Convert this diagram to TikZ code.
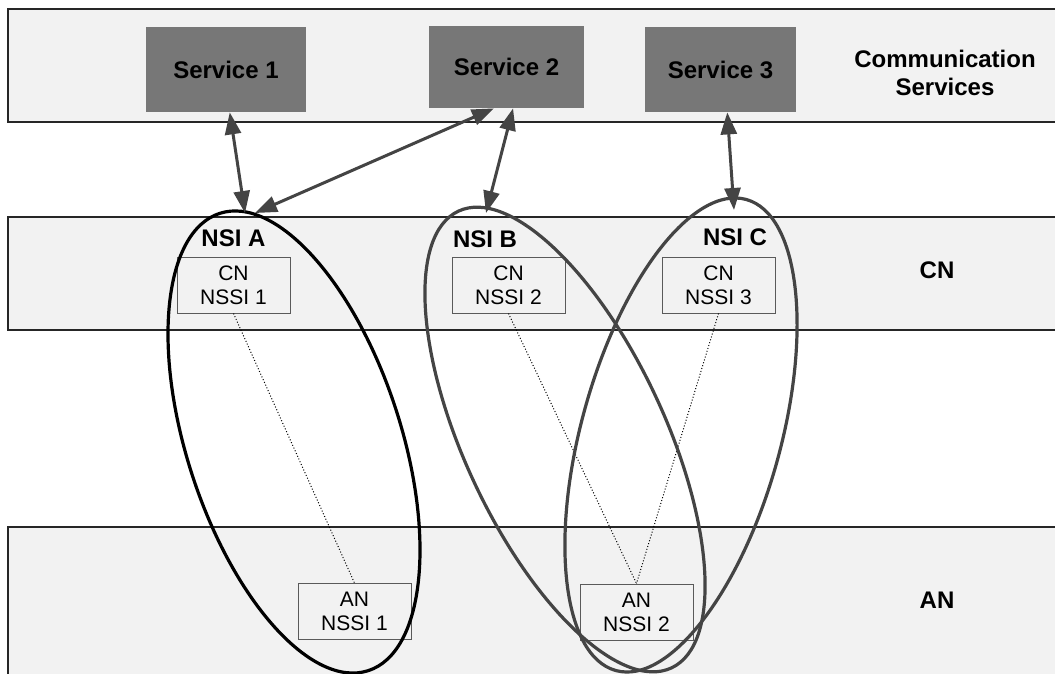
\documentclass[tikz,border=0pt]{standalone}
\usepackage{fontspec}
\setmainfont{Liberation Sans}
\usetikzlibrary{arrows.meta}
\definecolor{bandgray}{HTML}{F2F2F2}
\definecolor{servgray}{HTML}{777777}
\definecolor{linegray}{HTML}{444444}
\definecolor{boxgray}{HTML}{5A5A5A}

\begin{document}
\begin{tikzpicture}[x=0.5pt,y=-0.5pt,
    band/.style={draw=black!85, line width=0.6pt, fill=bandgray},
    service/.style={fill=servgray, inner sep=0pt, font=\fontsize{12}{14}\selectfont\bfseries},
    nssi/.style={draw=boxgray, line width=0.5pt, fill=bandgray, align=center, inner sep=0pt,
      minimum width=56.5pt, minimum height=28pt, font=\fontsize{10.5}{12}\selectfont},
    layer/.style={font=\fontsize{12}{14}\selectfont\bfseries, align=center},
    link/.style={linegray, line width=1.5pt,
      {Triangle[length=11pt,width=8pt]}-{Triangle[length=11pt,width=8pt]}},
    nsi/.style={line width=1.6pt},
    dots/.style={dash pattern=on 0.5pt off 1pt, line width=0.5pt}]
  \useasboundingbox (0,0) rectangle (1055,674);
  \fill[white] (0,0) rectangle (1055,674);
  \draw[band] (8,9) rectangle (1075,122);
  \draw[band] (8,217) rectangle (1075,330);
  \draw[band] (8,527) rectangle (1075,690);

  \node[service, minimum width=80pt, minimum height=42.5pt] (serv1) at (226,69.5) {Service 1};
  \node[service, minimum width=77.5pt, minimum height=41pt] (serv2) at (506.5,67) {Service 2};
  \node[service, minimum width=75.5pt, minimum height=42.5pt] (serv3) at (720.5,69.5) {Service 3};
  \node[layer] (comm) at (945,72.5) {Communication\\Services};
  \node[layer] (cn) at (937,270) {CN};
  \node[layer] (an) at (937,600) {AN};

  \node[layer] (labA) at (233.5,238) {NSI A};
  \node[layer] (labB) at (485,239) {NSI B};
  \node[layer] (labC) at (735,237) {NSI C};

  \node[nssi] (cn1) at (233.5,285) {CN\\NSSI 1};
  \node[nssi] (cn2) at (508.5,285) {CN\\NSSI 2};
  \node[nssi] (cn3) at (718.5,285) {CN\\NSSI 3};
  \node[nssi] (an1) at (354.5,611.5) {AN\\NSSI 1};
  \node[nssi] (an2) at (636.5,612) {AN\\NSSI 2};

  \draw[dots] (cn1.south) -- (an1.north);
  \draw[dots] (cn2.south) -- (an2.north);
  \draw[dots] (cn3.south) -- (an2.north);

  \draw[nsi, black, shift={(294,442)}, rotate=-72] (0,0) ellipse [x radius=240.4, y radius=107];
  \draw[nsi, linegray, shift={(565,439.5)}, rotate=-65] (0,0) ellipse [x radius=252, y radius=100.4];
  \draw[nsi, linegray, shift={(681,435)}, rotate=-105.5] (0,0) ellipse [x radius=244.4, y radius=99.6];

  \coordinate (endA1) at (245,213);
  \coordinate (endA2) at (255,213);
  \coordinate (endB) at (486,213);
  \coordinate (endC) at (734,210);
  \draw[link] (serv1.-85.3) -- (endA1);
  \draw[link] (serv2.-107) -- (endA2);
  \draw[link] (serv2.-81) -- (endB);
  \draw[link] (serv3.-81.3) -- (endC);
\end{tikzpicture}
\end{document}
